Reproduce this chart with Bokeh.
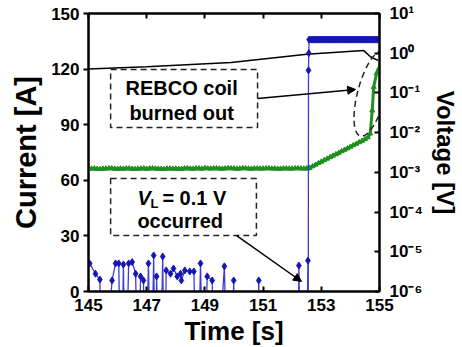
from bokeh.plotting import figure
from bokeh.models import (Range1d, LogScale, LinearAxis, LogAxis, FixedTicker,
                          CustomJSTickFormatter, BoxAnnotation, Label, Arrow, NormalHead)
from bokeh.embed import file_html
from bokeh.resources import INLINE

# ---------------- data ----------------
x_ticks = [145, 147, 149, 151, 153, 155]
current_ticks = [0, 30, 60, 90, 120, 150]
voltage_ticks = [1e-6, 1e-5, 1e-4, 1e-3, 1e-2, 1e-1, 1e0, 1e1]

# transport current (black, left axis)
current_time = [145.0, 147.0, 149.9, 152.5, 154.45, 154.7, 154.95]
current_A = [120.0, 121.3, 123.6, 128.0, 130.1, 126.5, 124.7]

# coil voltage (green, right axis)
green_time = [145.0, 145.1, 145.2, 145.3, 145.4, 145.5, 145.6, 145.7, 145.8, 145.9,
              146.0, 146.1, 146.2, 146.3, 146.4, 146.5, 146.6, 146.7, 146.8, 146.9,
              147.0, 147.1, 147.2, 147.3, 147.4, 147.5, 147.6, 147.7, 147.8, 147.9,
              148.0, 148.1, 148.2, 148.3, 148.4, 148.5, 148.6, 148.7, 148.8, 148.9,
              149.0, 149.1, 149.2, 149.3, 149.4, 149.5, 149.6, 149.7, 149.8, 149.9,
              150.0, 150.1, 150.2, 150.3, 150.4, 150.5, 150.6, 150.7, 150.8, 150.9,
              151.0, 151.1, 151.2, 151.3, 151.4, 151.5, 151.6, 151.7, 151.8, 151.9,
              152.0, 152.1, 152.2, 152.3, 152.4, 152.5, 152.55,
              152.6, 152.7, 152.8, 152.9, 153.0, 153.1, 153.2, 153.3, 153.4, 153.5,
              153.6, 153.7, 153.8, 153.9, 154.0, 154.1, 154.2, 154.3, 154.4, 154.5,
              154.6, 154.68, 154.75, 154.8, 154.9, 154.97]
green_V = [1.22e-3, 1.24e-3, 1.25e-3, 1.22e-3, 1.21e-3, 1.23e-3, 1.24e-3, 1.26e-3, 1.26e-3, 1.23e-3,
           1.22e-3, 1.24e-3, 1.23e-3, 1.25e-3, 1.25e-3, 1.22e-3, 1.21e-3, 1.23e-3, 1.24e-3, 1.26e-3,
           1.22e-3, 1.25e-3, 1.26e-3, 1.24e-3, 1.23e-3, 1.22e-3, 1.21e-3, 1.24e-3, 1.25e-3, 1.23e-3,
           1.24e-3, 1.22e-3, 1.22e-3, 1.25e-3, 1.26e-3, 1.24e-3, 1.23e-3, 1.26e-3, 1.25e-3, 1.23e-3,
           1.28e-3, 1.25e-3, 1.24e-3, 1.26e-3, 1.26e-3, 1.24e-3, 1.23e-3, 1.25e-3, 1.27e-3, 1.26e-3,
           1.25e-3, 1.23e-3, 1.24e-3, 1.27e-3, 1.26e-3, 1.24e-3, 1.23e-3, 1.25e-3, 1.25e-3, 1.24e-3,
           1.24e-3, 1.26e-3, 1.26e-3, 1.24e-3, 1.25e-3, 1.23e-3, 1.23e-3, 1.25e-3, 1.25e-3, 1.24e-3,
           1.24e-3, 1.26e-3, 1.26e-3, 1.25e-3, 1.24e-3, 1.25e-3, 1.25e-3,
           1.30e-3, 1.42e-3, 1.55e-3, 1.70e-3, 1.85e-3, 2.02e-3, 2.20e-3, 2.40e-3, 2.62e-3, 2.85e-3,
           3.10e-3, 3.40e-3, 3.70e-3, 4.00e-3, 4.40e-3, 4.80e-3, 5.20e-3, 5.70e-3, 6.20e-3, 6.80e-3,
           7.60e-3, 9.5e-3, 0.036, 0.14, 0.31, 0.40]

# lead voltage V_L (blue, right axis); 1e-9 = below the axis floor
blue_time = [145.04, 145.24, 145.39, 145.48, 145.81, 145.93, 146.04, 146.12, 146.20, 146.26,
             146.38, 146.50, 146.62, 146.70, 146.79, 146.89, 146.95, 147.06, 147.15, 147.24,
             147.30, 147.34, 147.46, 147.55, 147.61, 147.67, 147.82, 147.92, 148.05, 148.16,
             148.19, 148.31, 148.48, 148.62, 148.74, 148.85, 148.95, 149.08, 149.25, 149.35,
             149.67, 149.78, 149.92, 149.99, 150.06, 150.80, 150.85, 150.92, 152.18, 152.23,
             152.30, 152.48, 152.54, 152.55, 152.56, 152.57, 152.58,
             152.65, 152.7, 152.75, 152.8, 152.85, 152.9, 152.95, 153.0, 153.05, 153.1,
             153.15, 153.2, 153.25, 153.3, 153.35, 153.4, 153.45, 153.5, 153.55, 153.6,
             153.65, 153.7, 153.75, 153.8, 153.85, 153.9, 153.95, 154.0, 154.05, 154.1,
             154.15, 154.2, 154.25, 154.3, 154.35, 154.4, 154.45, 154.5, 154.55, 154.6,
             154.65, 154.7, 154.75, 154.8, 154.85, 154.9, 154.95, 155.0]
blue_V = [5.1e-6, 2.8e-6, 2.0e-6, 1e-9, 1.9e-6, 5.1e-6, 5.1e-6, 1e-9, 4.8e-6, 1e-9,
          5.1e-6, 5.5e-6, 2.8e-6, 1e-9, 2.4e-6, 1.9e-6, 1e-9, 5.1e-6, 1e-9, 8.1e-6,
          1e-9, 2.4e-6, 1e-9, 7.6e-6, 1e-9, 3.4e-6, 2.8e-6, 3.8e-6, 2.4e-6, 2.8e-6,
          1.9e-6, 3.4e-6, 3.2e-6, 3.2e-6, 1e-9, 5.1e-6, 1e-9, 2.4e-6, 1.9e-6, 1e-9,
          4.3e-6, 1e-9, 1e-9, 1.9e-6, 1e-9, 1e-9, 1.9e-6, 1e-9, 1e-9, 4.5e-6,
          1e-9, 1e-9, 6.0e-6, 1e-9, 0.37, 1.0, 2.2,
          2.2, 2.2, 2.2, 2.2, 2.2, 2.2, 2.2, 2.2, 2.2, 2.2,
          2.2, 2.2, 2.2, 2.2, 2.2, 2.2, 2.2, 2.2, 2.2, 2.2,
          2.2, 2.2, 2.2, 2.2, 2.2, 2.2, 2.2, 2.2, 2.2, 2.2,
          2.2, 2.2, 2.2, 2.2, 2.2, 2.2, 2.2, 2.2, 2.2, 2.2,
          2.2, 2.2, 2.2, 2.2, 2.2, 2.2, 2.2, 2.2]

FLOOR = 1e-6
blue_mt = [t for t, v in zip(blue_time, blue_V) if v >= FLOOR]
blue_mv = [v for v in blue_V if v >= FLOOR]

# ---------------- figure ----------------
FONT = "Liberation Sans"
GREEN = "#1f8f1f"
BLUE_LINE = "#3c3cd2"
BLUE_MARK = "#1616b4"

p = figure(frame_width=291, frame_height=278,
           x_range=Range1d(145, 155), y_range=Range1d(0, 150),
           output_backend="svg", toolbar_location=None,
           min_border_left=88, min_border_top=13, min_border_right=10, min_border_bottom=10,
           background_fill_color="white", border_fill_color="white")
p.extra_y_ranges = {"v": Range1d(1e-6, 1e1)}
p.extra_y_scales = {"v": LogScale()}
p.xgrid.visible = False
p.ygrid.visible = False
p.outline_line_color = "black"
p.outline_line_width = 2

def style_axis(ax):
    ax.axis_line_width = 2
    ax.axis_line_color = "black"
    ax.major_tick_line_width = 2
    ax.minor_tick_line_color = None
    ax.major_label_text_font = FONT
    ax.major_label_text_font_style = "bold"
    ax.major_label_text_font_size = "17px"
    ax.major_label_text_color = "black"
    ax.axis_label_text_font = FONT
    ax.axis_label_text_font_style = "bold"
    ax.axis_label_text_color = "black"

xa = p.xaxis[0]
style_axis(xa)
xa.ticker = FixedTicker(ticks=x_ticks)
xa.major_tick_in = 5
xa.major_tick_out = 0
xa.major_label_standoff = 7
xa.axis_label = "Time [s]"
xa.axis_label_text_font_size = "26px"
xa.axis_label_standoff = 2

ya = p.yaxis[0]
style_axis(ya)
ya.ticker = FixedTicker(ticks=current_ticks)
ya.major_tick_in = 0
ya.major_tick_out = 5
ya.major_label_standoff = 4
ya.axis_label = "Current [A]"
ya.axis_label_text_font_size = "29px"
ya.axis_label_standoff = 6

sup_js = """
const sup = {'-':'\u207b','0':'\u2070','1':'\u00b9','2':'\u00b2','3':'\u00b3','4':'\u2074',
             '5':'\u2075','6':'\u2076','7':'\u2077','8':'\u2078','9':'\u2079'};
const e = Math.round(Math.log10(tick));
return '10' + String(e).split('').map(c => sup[c]).join('');
"""
ra = LogAxis(y_range_name="v", ticker=FixedTicker(ticks=voltage_ticks),
             formatter=CustomJSTickFormatter(code=sup_js))
style_axis(ra)
ra.major_tick_in = 5
ra.major_tick_out = 0
ra.major_label_standoff = 10
ra.axis_label = "Voltage [V]"
ra.axis_label_text_font_size = "24px"
ra.axis_label_standoff = 6
p.add_layout(ra, "right")

ta = LinearAxis(ticker=FixedTicker(ticks=x_ticks),
                formatter=CustomJSTickFormatter(code="return '';"))
style_axis(ta)
ta.major_tick_in = 5
ta.major_tick_out = 0
ta.major_label_standoff = 0
ta.major_label_text_font_size = "1px"
p.add_layout(ta, "above")

# ---------------- series ----------------
p.line(current_time, current_A, line_color="black", line_width=1.5)

p.line(green_time, green_V, y_range_name="v", line_color=GREEN, line_width=3)
p.scatter(green_time, green_V, y_range_name="v", marker="triangle", size=5,
          fill_color=GREEN, line_color=GREEN)

p.line(blue_time, blue_V, y_range_name="v", line_color=BLUE_LINE, line_width=1.3)
p.scatter(blue_mt, blue_mv, y_range_name="v", marker="diamond", size=7,
          fill_color=BLUE_MARK, line_color=BLUE_MARK)

# ---------------- annotations ----------------
DASH = "6 4"
p.add_layout(BoxAnnotation(left=145.76, right=150.81, bottom=88.5, top=119.8,
                           fill_color=None, line_color="#222222", line_alpha=1.0,
                           line_width=1.5, line_dash=DASH))
p.add_layout(BoxAnnotation(left=145.76, right=150.77, bottom=30.2, top=61.0,
                           fill_color=None, line_color="#222222", line_alpha=1.0,
                           line_width=1.5, line_dash=DASH))

p.ellipse(x=[154.73], y=[106.8], width=28, height=88,
          width_units="screen", height_units="screen", angle=-0.26,
          fill_color=None, line_color="#222222", line_width=1.5, line_dash=DASH)

def lab(x, y, text, size="20px", style="bold", align="center", xo=0, yo=0):
    p.add_layout(Label(x=x, y=y, text=text, text_font=FONT, text_font_style=style,
                       text_font_size=size, text_align=align, text_baseline="alphabetic",
                       text_color="black", x_offset=xo, y_offset=yo))

lab(148.2, 109.6, "REBCO coil")
lab(148.2, 96.1, "burned out")
lab(146.68, 50.2, "V", style="bold italic", align="left")
lab(146.68, 50.2, "L", size="13px", align="left", xo=13, yo=-5)
lab(146.68, 50.2, "= 0.1 V", align="left", xo=25)
lab(146.68, 38.3, "occurred", align="left")

p.add_layout(Arrow(end=NormalHead(size=8, fill_color="black", line_color="black"),
                   x_start=150.81, y_start=104.2, x_end=154.18, y_end=109.0,
                   line_color="black", line_width=1.5))
p.add_layout(Arrow(end=NormalHead(size=8, fill_color="black", line_color="black"),
                   x_start=150.09, y_start=30.2, x_end=152.32, y_end=5.4,
                   line_color="black", line_width=1.5))

open("out.html", "w").write(file_html(p, INLINE))
